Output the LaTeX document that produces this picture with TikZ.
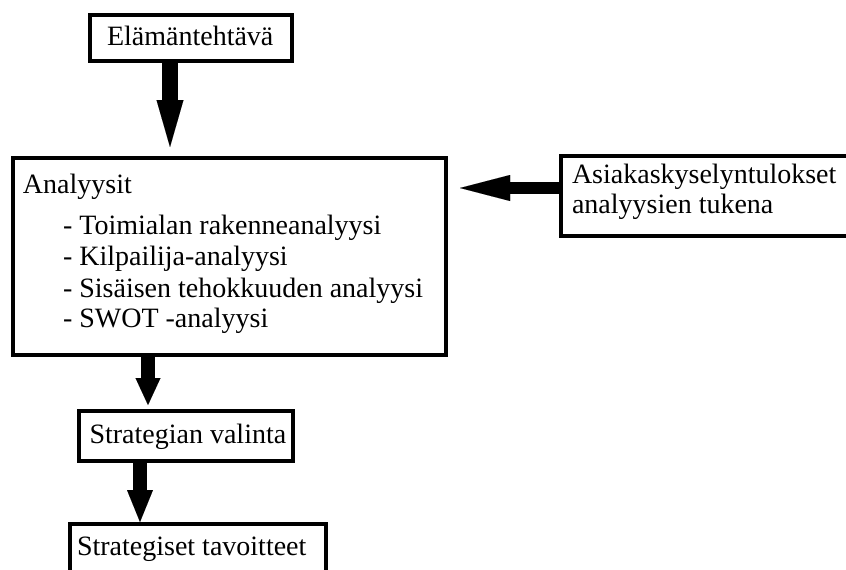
\documentclass[tikz,border=0pt]{standalone}
\usepackage{fontspec}
\setmainfont{Liberation Serif}
\newfontfamily\timesfont{Liberation Serif}
\usetikzlibrary{arrows.meta,calc}
\begin{document}
\begin{tikzpicture}[x=1pt,y=-1pt,
  box/.style={draw=black, line width=4pt, fill=white, inner sep=0pt, outer sep=0pt, anchor=north west},
  txt/.style={inner sep=0pt, outer sep=0pt, anchor=base west, font=\timesfont\fontsize{28pt}{31pt}\selectfont},
  fat/.style n args={3}{line width=#1, line cap=butt, -{Triangle[length=#2, width=#3, line width=0.01pt]}}]
\clip (0,0) rectangle (846,570);
\fill[white] (0,0) rectangle (846,570);
% boxes
\node[box, minimum width=202pt, minimum height=45.5pt] (b1) at (90,15) {};
\node[box, minimum width=433pt, minimum height=197pt] (b2) at (12.5,157.5) {};
\node[box, minimum width=320pt, minimum height=80pt] (b3) at (560.5,155.5) {};
\node[box, minimum width=214pt, minimum height=50pt] (b4) at (78.5,410.5) {};
\node[box, minimum width=256pt, minimum height=80pt] (b5) at (69.5,523.5) {};
% texts
\node[txt] (t1) at (107,45) {Elämäntehtävä};
\node[txt] (t2) at (23,193) {Analyysit};
\node[txt] (t2a) at (63,234) {- Toimialan rakenneanalyysi};
\node[txt] (t2b) at (63,265.5) {- Kilpailija-analyysi};
\node[txt] (t2c) at (63,297) {- Sisäisen tehokkuuden analyysi};
\node[txt] (t2d) at (63,327.5) {- SWOT -analyysi};
\node[txt] (t3a) at (572,183) {Asiakaskyselyntulokset};
\node[txt] (t3b) at (572,213.5) {analyysien tukena};
\node[txt] (t4) at (89.5,443) {Strategian valinta};
\node[txt] (t5) at (77,555) {Strategiset tavoitteet};
% arrow positions
\coordinate (x1) at (170,0);
\coordinate (y2) at (0,188);
\coordinate (x3) at (148,0);
\coordinate (x4) at (140,0);
% arrows
\draw[fat={16.5pt}{47pt}{27pt}] (x1 |- b1.south) -- ($(x1 |- b2.north)+(0,-10.5)$);
\draw[fat={12pt}{50pt}{26pt}] (b3.west |- y2) -- ($(b2.east |- y2)+(14.5,0)$);
\draw[fat={14pt}{27pt}{25pt}] (x3 |- b2.south) -- ($(x3 |- b4.north)+(0,-5.5)$);
\draw[fat={14pt}{32pt}{26pt}] (x4 |- b4.south) -- ($(x4 |- b5.north)+(0,-1.5)$);
\end{tikzpicture}
\end{document}
